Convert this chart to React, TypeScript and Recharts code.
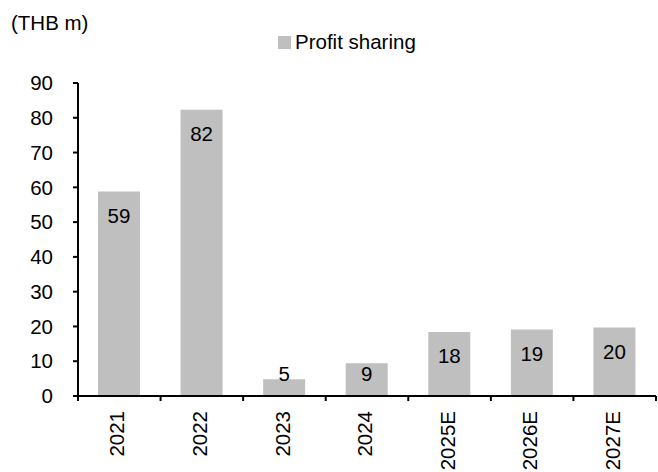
import { BarChart, Bar, XAxis, YAxis, LabelList } from "recharts";

const years = ["2021", "2022", "2023", "2024", "2025E", "2026E", "2027E"];
const profitSharing = [58.8, 82.3, 4.8, 9.4, 18.4, 19.1, 19.7];
const yTicks = [0, 10, 20, 30, 40, 50, 60, 70, 80, 90];

const data = years.map((year, i) => ({ year, profit: profitSharing[i] }));

const FONT = "'Liberation Sans', Arial, sans-serif";
const FS = 20.5;
const PLOT_LEFT = 78;
const PLOT_RIGHT = 656;
const BAND = (PLOT_RIGHT - PLOT_LEFT) / years.length;

const XTick = (props: any) => {
  const { x, y, payload, index } = props;
  const left = x - BAND / 2;
  return (
    <g>
      <line x1={left} y1={y - 8} x2={left} y2={y - 3} stroke="#000" strokeWidth={2} />
      {index === years.length - 1 && (
        <line x1={left + BAND} y1={y - 8} x2={left + BAND} y2={y - 3} stroke="#000" strokeWidth={2} />
      )}
      <text
        transform={`translate(${x - 2},${y + 7}) rotate(-90)`}
        textAnchor="end"
        dy="0.35em"
        fontSize={FS}
        fontFamily={FONT}
        fill="#000"
      >
        {payload.value}
      </text>
    </g>
  );
};

const BarLabel = (props: any) => {
  const { x, y, width, height, value } = props;
  const base = y + height;
  const cy = Math.min(y + 24, base - 22);
  return (
    <text
      x={x + width / 2}
      y={cy}
      dy="0.35em"
      textAnchor="middle"
      fontSize={FS}
      fontFamily={FONT}
      fill="#000"
    >
      {Math.round(value)}
    </text>
  );
};

export default function App() {
  return (
    <div style={{ position: "absolute", left: 0, top: 0, width: 658, height: 472, background: "#fff" }}>
      <div style={{ position: "absolute", left: 11, top: 11, fontFamily: FONT, fontSize: FS, color: "#000" }}>
        (THB m)
      </div>
      <div
        style={{
          position: "absolute",
          left: 278,
          top: 30,
          display: "flex",
          alignItems: "center",
          fontFamily: FONT,
          fontSize: FS,
          color: "#000",
        }}
      >
        <span style={{ width: 13, height: 13, background: "#bfbfbf", display: "inline-block", marginRight: 4 }} />
        <span>Profit sharing</span>
      </div>
      <BarChart
        width={658}
        height={472}
        data={data}
        margin={{ top: 83, right: 658 - PLOT_RIGHT, left: 0, bottom: 0 }}
        barSize={42}
      >
        <YAxis
          width={PLOT_LEFT}
          domain={[0, 90]}
          ticks={yTicks}
          interval={0}
          axisLine={{ stroke: "#000", strokeWidth: 2 }}
          tickLine={{ stroke: "#000", strokeWidth: 2 }}
          tickSize={5}
          tickMargin={20}
          tick={{ fontSize: FS, fontFamily: FONT, fill: "#000" }}
        />
        <XAxis
          dataKey="year"
          height={76}
          interval={0}
          axisLine={{ stroke: "#000", strokeWidth: 2 }}
          tickLine={false}
          tick={<XTick />}
        />
        <Bar dataKey="profit" fill="#bfbfbf" isAnimationActive={false}>
          <LabelList dataKey="profit" content={<BarLabel />} />
        </Bar>
      </BarChart>
    </div>
  );
}
